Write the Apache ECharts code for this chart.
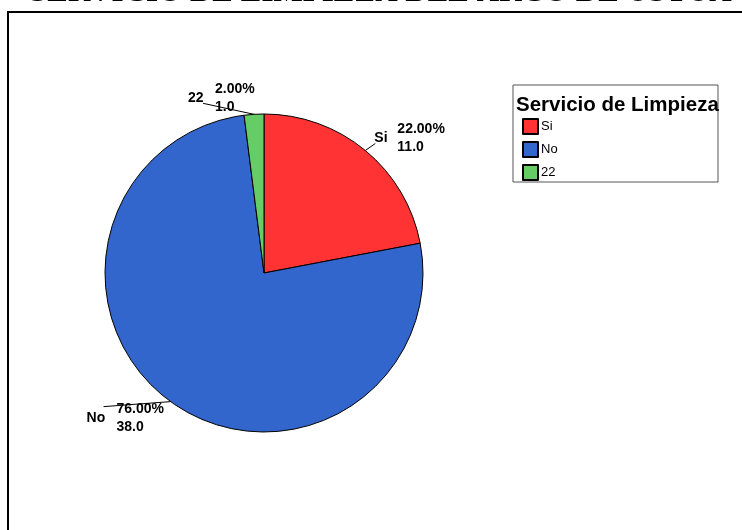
<!DOCTYPE html>
<html>
<head>
<meta charset="utf-8">
<script src="https://cdn.jsdelivr.net/npm/echarts@6/dist/echarts.min.js"></script>
<style>
  html, body { margin: 0; padding: 0; background: #fff; }
  #chart { width: 742px; height: 530px; }
</style>
</head>
<body>
<div id="chart"></div>
<script>
// datos del grafico
var categories = ['Si', 'No', '22'];
var counts = [11, 38, 1];
var sliceColors = ['#ff3333', '#3366cc', '#66cc66'];

var total = counts.reduce(function (a, b) { return a + b; }, 0);

// donde va cada etiqueta: linea desde el borde y desplazamiento del texto
var labelPlace = [
  { line: [10, -7], text: [-1, -18.5] },
  { line: [-67, 5], text: [-17, -1.5] },
  { line: [-51, -11], text: [-15, -18.5] }
];
var labelGap = [23, 30, 27];

var rich = {
  v: { fontFamily: 'Liberation Sans, Arial', fontWeight: 'bold', fontSize: 14, color: '#000', lineHeight: 9 },
  n: { fontFamily: 'Liberation Sans, Arial', fontWeight: 'bold', fontSize: 14, color: '#000', lineHeight: 9 }
};
labelGap.forEach(function (g, i) {
  rich['s' + i] = { width: g, lineHeight: 9 };
});

var chart = echarts.init(document.getElementById('chart'));

var option = {
  backgroundColor: '#fff',
  animation: false,
  graphic: [
    {
      type: 'text',
      left: 30,
      top: -23,
      style: {
        text: 'SERVICIO DE LIMPIEZA DEL ARCO DE USTUA',
        font: 'bold 31px "Liberation Serif", serif',
        fill: '#000'
      }
    },
    {
      type: 'rect',
      shape: { x: 8, y: 12, width: 800, height: 600 },
      style: { fill: 'none', stroke: '#000', lineWidth: 2 }
    },
    {
      type: 'rect',
      shape: { x: 513, y: 85, width: 205, height: 97 },
      style: { fill: 'none', stroke: '#555', lineWidth: 1 }
    },
    {
      type: 'text',
      x: 516,
      y: 95,
      style: {
        text: 'Servicio de Limpieza',
        font: 'bold 20.5px "Liberation Sans", Arial',
        fill: '#000'
      }
    }
  ],
  legend: {
    data: categories,
    orient: 'vertical',
    left: 522,
    top: 118,
    padding: 0,
    itemWidth: 15,
    itemHeight: 15,
    itemGap: 6,
    icon: 'rect',
    textStyle: { fontFamily: 'Liberation Sans, Arial', fontSize: 13, color: '#000', padding: [0, 0, 0, -2] }
  },
  series: [
    {
      type: 'pie',
      center: [264, 273],
      radius: 159,
      startAngle: 90,
      clockwise: true,
      itemStyle: { borderColor: '#000', borderWidth: 1 },
      emphasis: { disabled: true },
      label: {
        show: true,
        position: 'outside',
        formatter: function (p) {
          var pct = (p.value / total * 100).toFixed(2) + '%';
          var s = 's' + p.dataIndex;
          return '{' + s + '|}{v|' + pct + '}\n{n|' + p.name + '}\n{' + s + '|}{v|' + p.value.toFixed(1) + '}';
        },
        rich: rich
      },
      labelLine: {
        show: true,
        length: 10,
        length2: 0,
        lineStyle: { color: '#000', width: 1 }
      },
      labelLayout: function (params) {
        var lay = labelPlace[params.dataIndex];
        var p0 = params.labelLinePoints[0];
        var end = [p0[0] + lay.line[0], p0[1] + lay.line[1]];
        return {
          x: end[0] + lay.text[0],
          y: end[1] + lay.text[1],
          align: 'left',
          verticalAlign: 'top',
          labelLinePoints: [p0, end, end]
        };
      },
      data: categories.map(function (c, i) {
        return { name: c, value: counts[i], itemStyle: { color: sliceColors[i] } };
      })
    }
  ]
};

chart.setOption(option);
</script>
</body>
</html>
